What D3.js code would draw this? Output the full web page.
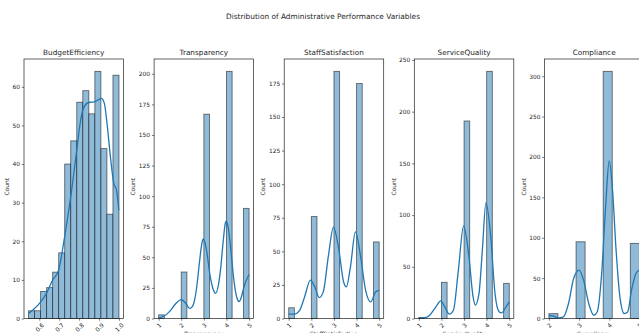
<!DOCTYPE html>
<html><head><meta charset="utf-8">
<script src="https://cdn.jsdelivr.net/npm/d3@7"></script>
<style>html,body{margin:0;padding:0;background:#fff;}svg{display:block;font-family:"DejaVu Sans",sans-serif;}</style>
</head><body>
<svg id="chart" width="639" height="333"></svg>
<script>
const suptitle = "Distribution of Administrative Performance Variables";
const variables = ["BudgetEfficiency","Transparency","StaffSatisfaction","ServiceQuality","Compliance"];

// BudgetEfficiency: continuous histogram, 15 equal bins
const budgetRange = [0.546, 1.0];
const budgetCounts = [2,2,7,8,12,17,40,46,56,59,53,64,44,27,63];
const budgetKde = [[0.5465,1.3],[0.6073,4.3],[0.6361,6.5],[0.6665,9.9],[0.6969,12.5],[0.7273,21.2],[0.7577,31.5],[0.7881,43.6],[0.805,50.5],[0.8185,54],[0.8387,55.7],[0.8556,56],[0.8776,56.1],[0.8979,56.7],[0.9114,57],[0.9266,55.7],[0.9401,50.5],[0.957,41.9],[0.9739,35],[0.9874,33.3],[0.9992,28]];
const budgetXTicks = [0.6,0.7,0.8,0.9,1.0];
const budgetYTicks = [0,10,20,30,40,50,60];

// Discrete 1-5 scales
const transparencyValues = [1,2,3,4,5];
const transparencyCounts = [3,38,167,202,90];
const transparencyKde = [[1,0.5],[1.25,2],[1.5,6],[1.75,12],[2,15.5],[2.2,12.5],[2.37,8.2],[2.5,10],[2.6,16],[2.7,28],[2.8,45],[2.9,60],[2.97,65],[3.05,62],[3.15,52],[3.25,38],[3.35,28],[3.45,22],[3.52,20.5],[3.65,28],[3.75,42],[3.85,62],[3.95,78],[3.99,79.5],[4.08,74],[4.2,55],[4.3,36],[4.4,22],[4.5,15],[4.56,13.8],[4.65,17],[4.75,24],[4.85,30],[5.0,36]];
const transparencyXTicks = [1,2,3,4,5];
const transparencyYTicks = [0,25,50,75,100,125,150,175,200];

const staffValues = [1,2,3,4,5];
const staffCounts = [8,76,184,175,57];
const staffKde = [[1,3.2],[1.25,3.2],[1.48,6],[1.7,16],[1.96,28.5],[2.15,23.6],[2.35,15.6],[2.53,20],[2.75,46],[2.98,68],[3.2,53],[3.43,27],[3.55,23.6],[3.73,38.5],[3.95,64.5],[4.18,46],[4.4,21],[4.63,12.4],[4.85,20],[5.0,21]];
const staffXTicks = [1,2,3,4,5];
const staffYTicks = [0,25,50,75,100,125,150,175];

const serviceValues = [1,2,3,4,5];
const serviceCounts = [1,35,191,239,34];
const serviceKde = [[1,0.3],[1.25,0.6],[1.48,3.2],[1.75,11],[1.97,17],[2.15,11],[2.35,4.2],[2.53,8],[2.75,47],[2.98,89.6],[3.2,63],[3.4,21],[3.5,13],[3.66,24],[3.8,63],[3.97,112],[4.18,79],[4.37,24],[4.55,6.5],[4.66,5.5],[4.85,11],[5.0,16]];
const serviceXTicks = [1,2,3,4,5];
const serviceYTicks = [0,50,100,150,200,250];

const complianceValues = [2,3,4,5];
const complianceCounts = [6,95,306,93];
const complianceKde = [[2.0,3.7],[2.15,2.9],[2.31,0.8],[2.48,2],[2.65,18.6],[2.82,49.5],[3.0,60],[3.15,47.5],[3.32,18.6],[3.49,4],[3.6,8],[3.75,56],[3.88,138],[4.0,195],[4.11,159],[4.22,89],[4.36,25],[4.5,6],[4.61,8],[4.74,35],[4.89,56],[5.0,60]];
const complianceXTicks = [2,3,4,5];
const complianceYTicks = [0,50,100,150,200,250,300];

// ---- build bins ----
function evenBins(lo, hi, counts){
  const n = counts.length, w = (hi-lo)/n;
  return counts.map((c,i)=>({x0:lo+i*w, x1:lo+(i+1)*w, c}));
}
function discreteBins(values, counts, nBins){
  const lo = d3.min(values), hi = d3.max(values), w = (hi-lo)/nBins;
  return values.map((v,i)=>{
    const k = Math.min(Math.floor((v-lo)/w + 1e-9), nBins-1);
    return {x0:lo+k*w, x1:lo+(k+1)*w, c:counts[i]};
  });
}

const panels = [
  {name:variables[0], bins:evenBins(budgetRange[0], budgetRange[1], budgetCounts), kde:budgetKde, xt:budgetXTicks, yt:budgetYTicks, fmt:d3.format(".1f")},
  {name:variables[1], bins:discreteBins(transparencyValues, transparencyCounts, 16), kde:transparencyKde, xt:transparencyXTicks, yt:transparencyYTicks, fmt:d3.format("d")},
  {name:variables[2], bins:discreteBins(staffValues, staffCounts, 16), kde:staffKde, xt:staffXTicks, yt:staffYTicks, fmt:d3.format("d")},
  {name:variables[3], bins:discreteBins(serviceValues, serviceCounts, 16), kde:serviceKde, xt:serviceXTicks, yt:serviceYTicks, fmt:d3.format("d")},
  {name:variables[4], bins:discreteBins(complianceValues, complianceCounts, 10), kde:complianceKde, xt:complianceXTicks, yt:complianceYTicks, fmt:d3.format("d")}
];

const svg = d3.select("#chart");
const textColor = "#262626";
svg.append("text").attr("x", 323).attr("y", 18.5).attr("text-anchor","middle")
  .attr("font-size", 7.4).attr("fill", textColor).text(suptitle);

const axTop = 59, axBottom = 318.5, pw = 99.5, step = 130.1, left0 = 24;
const tickFs = 5.9;

panels.forEach((p, i) => {
  const L = left0 + i*step, R = L + pw;
  const lo = d3.min(p.bins, b=>b.x0), hi = d3.max(p.bins, b=>b.x1), m = (hi-lo)*0.05;
  const x = d3.scaleLinear().domain([lo-m, hi+m]).range([L, R]);
  const ymax = d3.max(p.bins, b=>b.c)*1.05;
  const y = d3.scaleLinear().domain([0, ymax]).range([axBottom, axTop]);
  const g = svg.append("g");

  // bars
  g.selectAll("rect.bar").data(p.bins).join("rect").attr("class","bar")
    .attr("x", d=>x(d.x0)).attr("width", d=>x(d.x1)-x(d.x0))
    .attr("y", d=>y(d.c)).attr("height", d=>y(0)-y(d.c))
    .attr("fill", "#8fbbd9").attr("stroke", "#000").attr("stroke-opacity", 0.55).attr("stroke-width", 0.9);

  // kde
  const line = d3.line().x(d=>x(d[0])).y(d=>y(d[1])).curve(d3.curveMonotoneX);
  g.append("path").datum(p.kde).attr("d", line).attr("fill","none")
    .attr("stroke","#1f77b4").attr("stroke-width",1.3);

  // frame
  g.append("rect").attr("x", L).attr("y", axTop).attr("width", pw).attr("height", axBottom-axTop)
    .attr("fill","none").attr("stroke","#222").attr("stroke-width",0.7);

  // y axis
  const yAxis = d3.axisLeft(y).tickValues(p.yt).tickSize(2.2).tickPadding(1.8).tickFormat(d3.format("d"));
  const ya = g.append("g").attr("transform", `translate(${L},0)`).call(yAxis);
  ya.select(".domain").remove();
  ya.selectAll("line").attr("stroke","#222").attr("stroke-width",0.6);
  ya.selectAll("text").attr("font-size", tickFs).attr("fill", textColor).attr("font-family","DejaVu Sans");
  let maxW = 0;
  ya.selectAll("text").each(function(){ maxW = Math.max(maxW, this.getComputedTextLength()); });
  g.append("text").attr("transform", `translate(${L-4.2-maxW-5.3},${(axTop+axBottom)/2-2}) rotate(-90)`)
    .attr("text-anchor","middle").attr("dominant-baseline","central")
    .attr("font-size", tickFs).attr("fill", textColor).text("Count");

  // x axis
  const xAxis = d3.axisBottom(x).tickValues(p.xt).tickSize(2.2).tickFormat(p.fmt);
  const xa = g.append("g").attr("transform", `translate(0,${axBottom})`).call(xAxis);
  xa.select(".domain").remove();
  xa.selectAll("line").attr("stroke","#222").attr("stroke-width",0.6);
  let maxBottom = 0;
  xa.selectAll(".tick text").each(function(){
    const t = d3.select(this).attr("font-size", tickFs).attr("fill", textColor).attr("font-family","DejaVu Sans");
    const w = this.getComputedTextLength();
    const h = 4.3;
    const half = (w + h)*0.7071/2;
    const cy = 4.2 + half;
    maxBottom = Math.max(maxBottom, axBottom + cy + half);
    t.attr("y", null).attr("dy", null).attr("text-anchor","middle").attr("dominant-baseline","central")
     .attr("transform", `translate(0,${cy}) rotate(-45)`);
  });
  g.append("text").attr("x", (L+R)/2).attr("y", maxBottom + 2.4 + 5)
    .attr("text-anchor","middle").attr("font-size", tickFs).attr("fill", textColor).text(p.name);

  // title
  g.append("text").attr("x", (L+R)/2).attr("y", 55.2).attr("text-anchor","middle")
    .attr("font-size", 7.3).attr("fill", textColor).text(p.name);
});
</script>
</body></html>
